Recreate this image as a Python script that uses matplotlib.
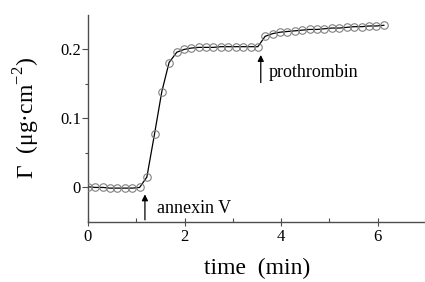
import matplotlib
matplotlib.use('Agg')
import matplotlib.pyplot as plt

plt.rcParams['font.family'] = ['Liberation Serif', 'DejaVu Serif']
plt.rcParams['mathtext.fontset'] = 'custom'
plt.rcParams['mathtext.rm'] = 'Liberation Serif'

# adsorbed amount vs time
time_min = [0.00, 0.15, 0.31, 0.46, 0.61, 0.77, 0.92, 1.07, 1.22, 1.38,
            1.53, 1.68, 1.84, 1.99, 2.14, 2.30, 2.45, 2.60, 2.76, 2.91,
            3.06, 3.22, 3.37, 3.52, 3.67, 3.83, 3.98, 4.13, 4.29, 4.44,
            4.59, 4.75, 4.90, 5.05, 5.21, 5.36, 5.51, 5.67, 5.82, 5.97, 6.13]
gamma = [0.001, 0.000, 0.000, -0.001, -0.001, -0.001, -0.001, 0.000, 0.015, 0.078,
         0.139, 0.181, 0.196, 0.200, 0.202, 0.203, 0.203, 0.203, 0.204, 0.204,
         0.204, 0.204, 0.204, 0.204, 0.219, 0.223, 0.225, 0.226, 0.227, 0.228,
         0.229, 0.229, 0.230, 0.231, 0.231, 0.232, 0.233, 0.233, 0.234, 0.234, 0.235]

x_ticks = [0, 2, 4, 6]
y_ticks = [0, 0.1, 0.2]
y_tick_labels = ['0', '0.1', '0.2']

fig = plt.figure(figsize=(4.25, 2.82), dpi=100)
ax = fig.add_axes([0.207, 0.213, 0.795, 0.734])

ax.plot(time_min, gamma, color='black', lw=0.9, zorder=2)
ax.plot(time_min, gamma, 'o', ms=5.4, mfc='none', mec='0.5', mew=0.8, zorder=3)

ax.set_xlim(0, 7)
ax.set_ylim(-0.05, 0.25)
ax.set_xticks(x_ticks)
ax.set_xticks([1, 3, 5], minor=True)
ax.set_yticks(y_ticks)
ax.set_yticklabels(y_tick_labels)
ax.set_yticks([0.05, 0.15], minor=True)

for s in ['top', 'right']:
    ax.spines[s].set_visible(False)
for s in ['left', 'bottom']:
    ax.spines[s].set_color('0.3')
    ax.spines[s].set_linewidth(1.0)

ax.tick_params(axis='x', which='major', direction='inout', length=6, width=0.8,
               color='0.3', labelsize=12, pad=2)
ax.tick_params(axis='x', which='minor', direction='in', length=3, width=0.8, color='0.3')
ax.tick_params(axis='y', which='major', direction='out', length=4, width=0.8,
               color='0.3', labelsize=12, pad=1)
ax.tick_params(axis='y', which='minor', direction='out', length=2.5, width=0.8, color='0.3')

ax.set_xlabel('time  (min)', fontsize=17, labelpad=9)
ax.set_ylabel('Γ  (μg·cm$^{-2}$)', fontsize=17, labelpad=13)

arrow = dict(arrowstyle='-|>', color='black', lw=0.9, mutation_scale=9,
             shrinkA=0, shrinkB=0)
ax.annotate('', xy=(1.18, -0.010), xytext=(1.18, -0.047), arrowprops=arrow)
ax.text(1.42, -0.030, 'annexin V', fontsize=13, va='center', ha='left')
ax.annotate('', xy=(3.58, 0.192), xytext=(3.58, 0.152), arrowprops=arrow)
ax.text(3.74, 0.166, 'prothrombin', fontsize=13, va='center', ha='left')

fig.savefig('out.png', dpi=100)
